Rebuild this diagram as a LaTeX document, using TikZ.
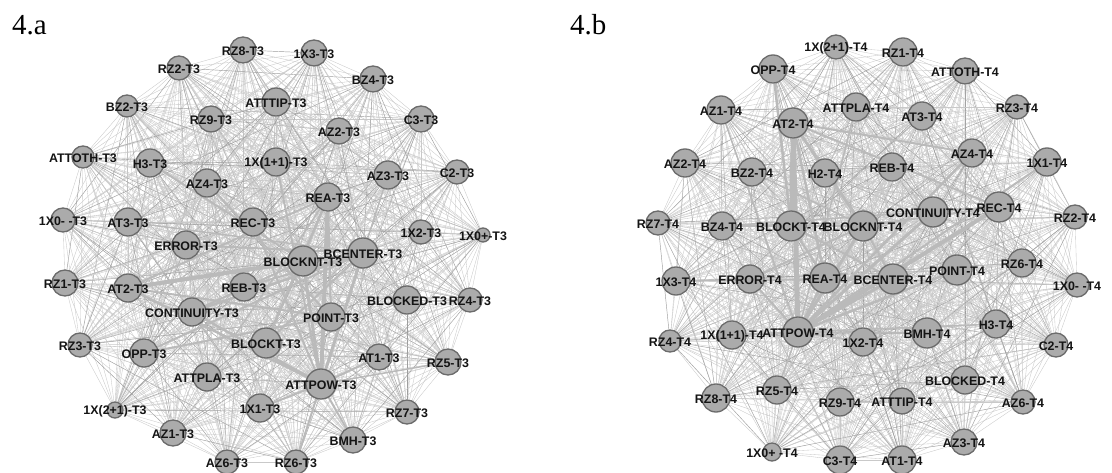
\documentclass[tikz,border=0pt]{standalone}
\usepackage{fontspec}
\setmainfont{Liberation Serif}
\newfontfamily\lblfont{Liberation Sans}
\pgfdeclarelayer{background}
\pgfsetlayers{background,main}
\tikzset{
  vert/.style={circle, fill=black!33, draw=black!58, line width=1.3pt, inner sep=0pt},
  lbl/.style={font=\lblfont\bfseries\fontsize{12.4}{13}\selectfont, inner sep=0pt, text=black!92},
  thinedge/.style={draw=black!21, line width=0.35pt},
  darkedge/.style={draw=black!38, line width=0.45pt},
  heavy/.style={draw=black!27, line width=#1},
  paneltitle/.style={font=\fontsize{29}{30}\selectfont, inner sep=0pt, anchor=base west}
}
\def\nodesA{a1/243/50/13/RZ8-T3,a2/179/68/12/RZ2-T3,a3/127/106/11/BZ2-T3,a4/211/119/13/RZ9-T3,
a5/83/157/11/ATTOTH-T3,a6/150/163/14/H3-T3,a7/207/183/14/AZ4-T3,a8/63/220/12/1X0- -T3,
a9/128/222/14/AT3-T3,a10/253/222/14/REC-T3,a11/276/102/14/ATTTIP-T3,a12/276/162/14/1X(1+1)-T3,
a13/314/53/13/1X3-T3,a14/373/79/13/BZ4-T3,a15/421/119/13/C3-T3,a16/339/131/13/AZ2-T3,
a17/388/175/14/AZ3-T3,a18/457/172/12/C2-T3,a19/328/197/14/REA-T3,a20/421/232/12/1X2-T3,
a21/483/235/7/1X0+-T3,a22/186/245/14/ERROR-T3,a23/65/283/13/RZ1-T3,a24/128/288/14/AT2-T3,
a25/244/287/14/REB-T3,a26/192/312/14/CONTINUITY-T3,a27/80/345/12/RZ3-T3,a28/144/353/14/OPP-T3,
a29/266/343/15/BLOCKT-T3,a30/207/377/14/ATTPLA-T3,a31/115/410/8/1X(2+1)-T3,a32/260/408/14/1X1-T3,
a33/173/433/13/AZ1-T3,a34/227/462/12/AZ6-T3,a35/303/261/15/BLOCKNT-T3,a36/363/253/15/BCENTER-T3,
a37/407/300/14/BLOCKED-T3,a38/470/300/12/RZ4-T3,a39/331/317/14/POINT-T3,a40/379/357/13/AT1-T3,
a41/448/362/13/RZ5-T3,a42/321/384/15/ATTPOW-T3,a43/407/412/12/RZ7-T3,a44/353/440/13/BMH-T3,
a45/296/462/12/RZ6-T3}
\def\nodesB{b1/773/69/14/OPP-T4,b2/836/47/12/1X(2+1)-T4,b3/721/110/14/AZ1-T4,b4/793/123/15/AT2-T4,
b5/685/163/14/AZ2-T4,b6/752/172/14/BZ2-T4,b7/825/173/14/H2-T4,b8/658/223/12/RZ7-T4,
b9/722/226/14/BZ4-T4,b10/791/226/15/BLOCKT-T4,b11/903/52/14/RZ1-T4,b12/965/71/13/ATTOTH-T4,
b13/856/107/14/ATTPLA-T4,b14/922/116/14/AT3-T4,b15/1017/107/12/RZ3-T4,b16/972/153/14/AZ4-T4,
b17/892/167/14/REB-T4,b18/1047/162/14/1X1-T4,b19/933/212/15/CONTINUITY-T4,b20/999/207/15/REC-T4,
b21/1075/217/12/RZ2-T4,b22/863/226/15/BLOCKNT-T4,b23/676/281/14/1X3-T4,b24/750/279/14/ERROR-T4,
b25/825/278/15/REA-T4,b26/670/341/11/RZ4-T4,b27/732/335/14/1X(1+1)-T4,b28/798/332/15/ATTPOW-T4,
b29/716/398/14/RZ8-T4,b30/777/390/14/RZ5-T4,b31/840/402/14/RZ9-T4,b32/772/452/9/1X0+ -T4,
b33/840/460/14/C3-T4,b34/893/279/15/BCENTER-T4,b35/957/270/15/POINT-T4,b36/1022/263/14/RZ6-T4,
b37/1077/285/12/1X0- -T4,b38/996/324/14/H3-T4,b39/927/333/15/BMH-T4,b40/863/342/14/1X2-T4,
b41/1056/345/12/C2-T4,b42/965/380/14/BLOCKED-T4,b43/902/401/13/ATTTIP-T4,b44/1023/402/12/AZ6-T4,
b45/964/442/13/AZ3-T4,b46/902/460/14/AT1-T4}
\begin{document}
\begin{tikzpicture}[x=1pt,y=-1pt]
\useasboundingbox (0,0) rectangle (1112,473);
\node[paneltitle] (ta) at (12,35) {4.a};
\node[paneltitle] (tb) at (570,35) {4.b};
% vertices
\foreach \n/\x/\y/\r/\t in \nodesA {\node[vert, minimum size={2*\r pt}] (\n) at (\x,\y) {};}
\foreach \n/\x/\y/\r/\t in \nodesB {\node[vert, minimum size={2*\r pt}] (\n) at (\x,\y) {};}
% labels on top
\foreach \n/\x/\y/\r/\t in \nodesA {\node[lbl] (l\n) at ([yshift=-1pt]\n.center) {\t};}
\foreach \n/\x/\y/\r/\t in \nodesB {\node[lbl] (l\n) at ([yshift=-1pt]\n.center) {\t};}
% edges
\begin{pgfonlayer}{background}
\fill[white] (0,0) rectangle (1112,473);
\foreach \i in {1,...,44}{
  \pgfmathtruncatemacro\s{\i+1}
  \foreach \j in {\s,...,45}{
    \pgfmathtruncatemacro\k{mod(\i*7+\j*11,6)}
    \ifnum\k=0 \draw[darkedge] (a\i) -- (a\j); \else \draw[thinedge] (a\i) -- (a\j); \fi
  }
}
\foreach \i in {1,...,45}{
  \pgfmathtruncatemacro\s{\i+1}
  \foreach \j in {\s,...,46}{
    \pgfmathtruncatemacro\k{mod(\i*5+\j*13,6)}
    \ifnum\k=0 \draw[darkedge] (b\i) -- (b\j); \else \draw[thinedge] (b\i) -- (b\j); \fi
  }
}
\foreach \p/\q/\w in {24/35/4,24/36/3,24/42/2.5,42/19/4,42/35/3,42/36/3,42/26/2.5,42/10/2,
  29/19/2.5,29/36/2,35/36/2,6/35/2,7/39/2,26/36/2.5,26/35/2,22/36/2,25/36/2,28/39/2,42/32/2,
  42/44/2,42/45/2,42/40/2,42/41/1.5,39/19/2,9/36/1.5,24/19/2,24/39/2,12/42/2,17/42/1.5,28/36/2,30/19/1.5}
  {\draw[heavy=\w pt] (a\p) -- (a\q);}
\foreach \p/\q/\w in {4/28/5,4/10/4,4/22/3,4/25/2.5,4/16/2,4/20/2,1/10/2.5,10/22/2.5,10/25/2,
  10/34/2,28/20/4,28/19/3,28/34/3,28/35/2.5,28/16/2.5,28/18/2,28/22/3,28/25/2.5,22/34/2,22/20/2,
  25/34/2,27/28/2,24/28/2,24/22/2,9/10/2,9/20/1.5,23/34/1.5,3/28/1.5,13/28/1.5,6/22/1.5,28/39/2,
  28/38/1.5,28/40/2,28/30/1.5}
  {\draw[heavy=\w pt] (b\p) -- (b\q);}
\end{pgfonlayer}
\end{tikzpicture}
\end{document}
